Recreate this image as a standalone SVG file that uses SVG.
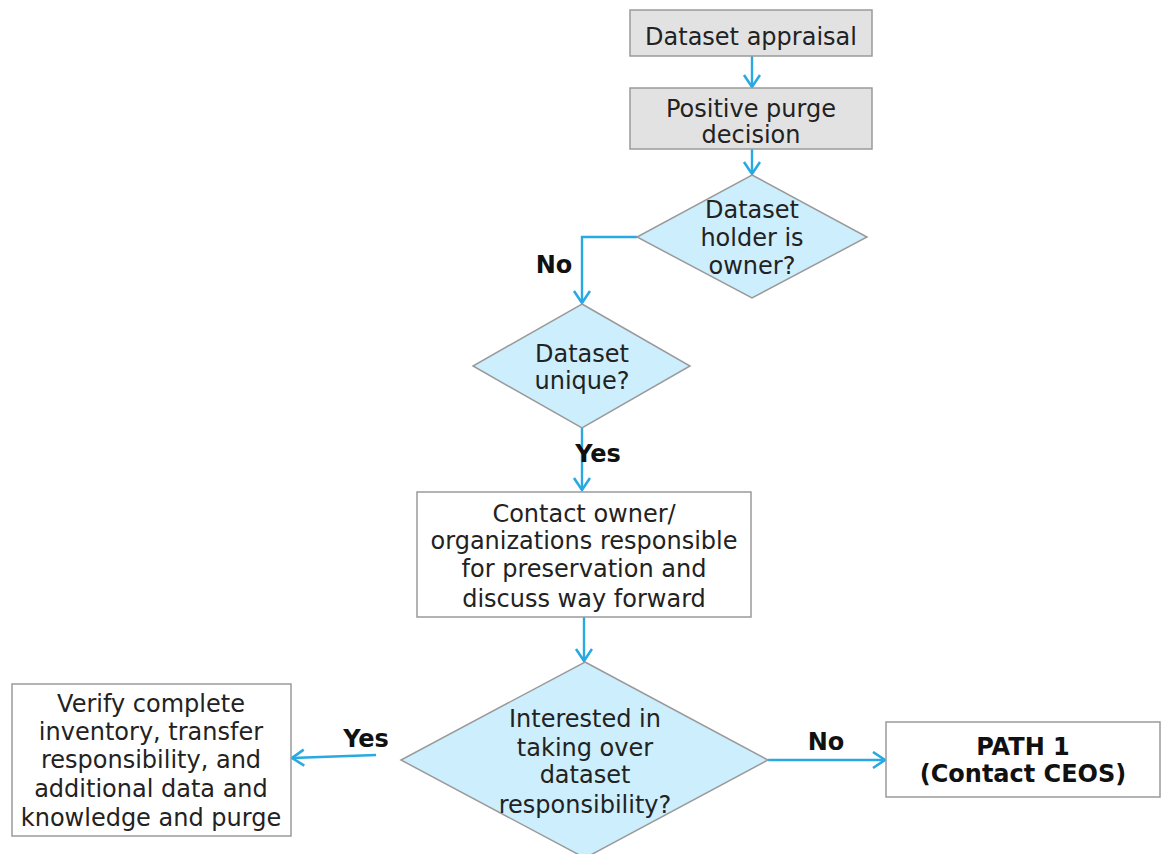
<svg xmlns="http://www.w3.org/2000/svg" width="1162" height="854" viewBox="0 0 1162 854">
  <style>
    .box { stroke: #9a9a9a; stroke-width: 1.5; }
    .grey { fill: #e2e2e2; }
    .white { fill: #ffffff; }
    .dia { fill: #cdeefd; stroke: #9a9a9a; stroke-width: 1.5; }
    .t { font-family: "DejaVu Sans", Verdana, sans-serif; font-size: 24px; fill: #222; text-anchor: middle; }
    .b { font-weight: bold; fill: #111; }
    .conn { fill: none; stroke: #29a9e1; stroke-width: 2.4; marker-end: url(#arrow); }
  </style>
  <defs>
    <marker id="arrow" markerUnits="userSpaceOnUse" markerWidth="22" markerHeight="22" refX="13" refY="9" orient="auto">
      <path d="M1,1 L13,9 L1,17" fill="none" stroke="#29a9e1" stroke-width="2.6"/>
    </marker>
  </defs>
  <rect width="1162" height="854" fill="#ffffff"/>

  <g id="connectors">
    <path class="conn" d="M752,56 V87"/>
    <path class="conn" d="M752,149 V174"/>
    <path class="conn" d="M637,237 H582 V303"/>
    <path class="conn" d="M582,428 V490"/>
    <path class="conn" d="M584,617 V661"/>
    <path class="conn" d="M376,755 L292,758"/>
    <path class="conn" d="M768,760 H885"/>
  </g>

  <g id="labels">
    <text class="t b" x="554" y="273">No</text>
    <text class="t b" x="598" y="462">Yes</text>
    <text class="t b" x="366" y="747">Yes</text>
    <text class="t b" x="826" y="750">No</text>
  </g>

  <g id="dataset-appraisal">
    <rect class="box grey" x="630" y="10" width="242" height="46"/>
    <text class="t" x="751" y="45">Dataset appraisal</text>
  </g>

  <g id="positive-purge-decision">
    <rect class="box grey" x="630" y="88" width="242" height="61"/>
    <text class="t" x="751" y="117">Positive purge</text>
    <text class="t" x="751" y="143">decision</text>
  </g>

  <g id="holder-is-owner">
    <polygon class="dia" points="752,175 867,237 752,298 637,237"/>
    <text class="t" x="752" y="218">Dataset</text>
    <text class="t" x="752" y="246">holder is</text>
    <text class="t" x="752" y="274">owner?</text>
  </g>

  <g id="dataset-unique">
    <polygon class="dia" points="582,304 690,366 582,428 473,366"/>
    <text class="t" x="582" y="362">Dataset</text>
    <text class="t" x="582" y="389">unique?</text>
  </g>

  <g id="contact-owner">
    <rect class="box white" x="417" y="492" width="334" height="125"/>
    <text class="t" x="584" y="522">Contact owner/</text>
    <text class="t" x="584" y="549">organizations responsible</text>
    <text class="t" x="584" y="577">for preservation and</text>
    <text class="t" x="584" y="607">discuss way forward</text>
  </g>

  <g id="interested">
    <polygon class="dia" points="585,662 768,760 585,858 401,760"/>
    <text class="t" x="585" y="727">Interested in</text>
    <text class="t" x="585" y="756">taking over</text>
    <text class="t" x="585" y="783">dataset</text>
    <text class="t" x="585" y="813">responsibility?</text>
  </g>

  <g id="verify-inventory">
    <rect class="box white" x="12" y="684" width="279" height="152"/>
    <text class="t" x="151" y="712">Verify complete</text>
    <text class="t" x="151" y="740">inventory, transfer</text>
    <text class="t" x="151" y="768">responsibility, and</text>
    <text class="t" x="151" y="797">additional data and</text>
    <text class="t" x="151" y="826">knowledge and purge</text>
  </g>

  <g id="path-1">
    <rect class="box white" x="886" y="722" width="274" height="75"/>
    <text class="t b" x="1023" y="755">PATH 1</text>
    <text class="t b" x="1023" y="782">(Contact CEOS)</text>
  </g>
</svg>
